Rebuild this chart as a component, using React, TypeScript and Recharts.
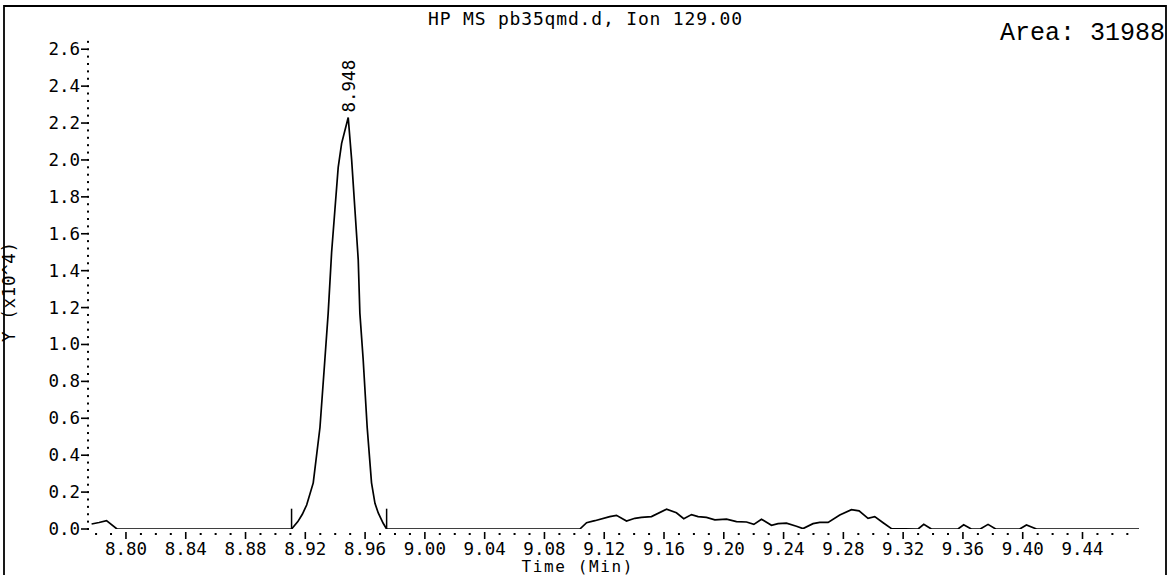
import React from 'react';
import { LineChart, Line, XAxis, YAxis, ReferenceLine, ReferenceDot } from 'recharts';

// Chromatogram samples (Time in min, abundance in x10^4)
const timeMin = [
  8.7770, 8.7820, 8.7870, 8.7940, 8.8500, 8.9000,
  8.9108, 8.9150, 8.9180, 8.9209, 8.9253, 8.9298, 8.9331, 8.9353, 8.9376, 8.9398, 8.9420, 8.9443, 8.9487,
  8.9510, 8.9532, 8.9554, 8.9565, 8.9587, 8.9614, 8.9643, 8.9666, 8.9688, 8.9721, 8.9744,
  9.0000, 9.0500, 9.1037,
  9.1082, 9.1137, 9.1237, 9.1282, 9.1349, 9.1405, 9.1449, 9.1516, 9.1617, 9.1683, 9.1732, 9.1784,
  9.1828, 9.1884, 9.1940, 9.2018, 9.2085, 9.2152, 9.2201, 9.2252, 9.2319, 9.2363, 9.2419, 9.2486,
  9.2530, 9.2597, 9.2642, 9.2698, 9.2776, 9.2854, 9.2905, 9.2965, 9.3010, 9.3066, 9.3122,
  9.3300, 9.3338, 9.3389, 9.3567, 9.3605, 9.3656, 9.3716, 9.3768, 9.3819, 9.3980, 9.4025, 9.4092, 9.4778,
];
const abundance = [
  0.027, 0.035, 0.045, 0.0, 0.0, 0.0,
  0.0, 0.04, 0.08, 0.13, 0.25, 0.55, 0.92, 1.17, 1.50, 1.73, 1.96, 2.09, 2.23,
  2.00, 1.73, 1.46, 1.17, 0.92, 0.55, 0.25, 0.139, 0.087, 0.031, 0.0,
  0.0, 0.0, 0.0,
  0.034, 0.045, 0.067, 0.074, 0.043, 0.058, 0.063, 0.067, 0.107, 0.088, 0.056, 0.078,
  0.067, 0.063, 0.050, 0.053, 0.040, 0.038, 0.025, 0.053, 0.020, 0.029, 0.032, 0.015,
  0.002, 0.029, 0.036, 0.036, 0.076, 0.105, 0.098, 0.058, 0.067, 0.034, 0.002,
  0.0, 0.025, 0.0, 0.0, 0.023, 0.0, 0.0, 0.025, 0.0, 0.0, 0.022, 0.0, 0.0,
];

const xTicks = [
  8.78, 8.79, 8.80, 8.81, 8.82, 8.83, 8.84, 8.85, 8.86, 8.87, 8.88, 8.89, 8.90, 8.91, 8.92, 8.93,
  8.94, 8.95, 8.96, 8.97, 8.98, 8.99, 9.00, 9.01, 9.02, 9.03, 9.04, 9.05, 9.06, 9.07, 9.08, 9.09,
  9.10, 9.11, 9.12, 9.13, 9.14, 9.15, 9.16, 9.17, 9.18, 9.19, 9.20, 9.21, 9.22, 9.23, 9.24, 9.25,
  9.26, 9.27, 9.28, 9.29, 9.30, 9.31, 9.32, 9.33, 9.34, 9.35, 9.36, 9.37, 9.38, 9.39, 9.40, 9.41,
  9.42, 9.43, 9.44, 9.45, 9.46, 9.47,
];
const yMajorTicks = [0.0, 0.2, 0.4, 0.6, 0.8, 1.0, 1.2, 1.4, 1.6, 1.8, 2.0, 2.2, 2.4, 2.6];
const yTicks: number[] = [];
yMajorTicks.forEach((v, i) => {
  yTicks.push(v);
  const last = i === yMajorTicks.length - 1;
  const count = last ? 1 : 4;
  for (let k = 1; k <= count; k++) {
    yTicks.push(Math.round((v + 0.04 * k) * 1000) / 1000);
  }
});

const peakTime = 8.9487;
const peakValue = 2.23;
const peakLabel = '8.948';
const baselineMarks = [8.9108, 8.9744];
const titleText = 'HP MS pb35qmd.d, Ion 129.00';
const areaText = 'Area: 31988';
const xTitle = 'Time (Min)';
const yTitle = 'Y (x10^4)';

const data = timeMin.map((t, i) => ({ t, v: abundance[i] }));

const MONO = '"DejaVu Sans Mono", monospace';

const XTick = (props: any) => {
  const { x, y, payload } = props;
  const v = payload.value as number;
  const hund = Math.round(v * 100);
  if (hund % 4 === 0) {
    return (
      <g>
        <line x1={x} x2={x} y1={y + 3} y2={y + 10} stroke="#000" strokeWidth={1.6} />
        <text x={x} y={y + 26} textAnchor="middle" fontFamily={MONO} fontSize={17.5} fill="#000">
          {v.toFixed(2)}
        </text>
      </g>
    );
  }
  return <rect x={x - 1} y={y + 4} width={2} height={2} fill="#000" />;
};

const YTick = (props: any) => {
  const { x, y, payload } = props;
  const v = payload.value as number;
  const isMajor = yMajorTicks.some((m) => Math.abs(m - v) < 1e-6);
  if (isMajor) {
    return (
      <g>
        <line x1={x - 7} x2={x - 1} y1={y} y2={y} stroke="#000" strokeWidth={1.6} />
        <rect x={x - 1} y={y - 1} width={2} height={2} fill="#000" />
        <text x={x - 8} y={y + 6} textAnchor="end" fontFamily={MONO} fontSize={17.5} fill="#000">
          {v.toFixed(1)}
        </text>
      </g>
    );
  }
  return <rect x={x - 1} y={y - 1} width={2} height={2} fill="#000" />;
};

const PeakLabel = (props: any) => {
  const { cx, cy } = props;
  const ax = cx;
  const ay = cy - 5;
  return (
    <text
      x={ax}
      y={ay}
      dy="0.36em"
      textAnchor="start"
      fontFamily={MONO}
      fontSize={17.5}
      fill="#000"
      transform={`rotate(-90, ${ax}, ${ay})`}
    >
      {peakLabel}
    </text>
  );
};

export default function App() {
  return (
    <div style={{ position: 'absolute', left: 0, top: 0, width: 1172, height: 575, background: '#fff' }}>
      <LineChart width={1172} height={575} data={data} margin={{ top: 40, right: 33, bottom: 0, left: 0 }}>
        <XAxis
          dataKey="t"
          type="number"
          domain={[8.7746, 9.4778]}
          allowDataOverflow
          ticks={xTicks}
          interval={0}
          height={46}
          axisLine={false}
          tickLine={false}
          tickSize={0}
          tickMargin={0}
          tick={<XTick />}
        />
        <YAxis
          type="number"
          domain={[0, 2.65]}
          allowDataOverflow
          ticks={yTicks}
          interval={0}
          width={88}
          axisLine={false}
          tickLine={false}
          tickSize={0}
          tickMargin={0}
          tick={<YTick />}
        />
        {baselineMarks.map((m) => (
          <ReferenceLine
            key={m}
            segment={[{ x: m, y: 0 }, { x: m, y: 0.11 }]}
            stroke="#000"
            strokeWidth={1.5}
            ifOverflow="visible"
          />
        ))}
        <Line
          type="linear"
          dataKey="v"
          stroke="#000"
          strokeWidth={1.7}
          dot={false}
          isAnimationActive={false}
        />
        <ReferenceDot x={peakTime} y={peakValue} r={0} ifOverflow="visible" shape={<PeakLabel />} />
      </LineChart>
      <svg
        width={1172}
        height={575}
        style={{ position: 'absolute', left: 0, top: 0, pointerEvents: 'none' }}
      >
        <polyline points="4,575 4,6 1166,6 1166,575" fill="none" stroke="#000" strokeWidth={1.8} />
        <text x={585} y={25} textAnchor="middle" fontFamily={MONO} fontSize={18} textLength={314} fill="#000">
          {titleText}
        </text>
        <text x={1000} y={40} fontFamily='"Liberation Mono", "Courier New", monospace' fontSize={25} fill="#000">
          {areaText}
        </text>
        <text x={577} y={572} textAnchor="middle" fontFamily={MONO} fontSize={16} textLength={111} fill="#000">
          {xTitle}
        </text>
        <text
          x={9}
          y={292}
          dy="0.36em"
          textAnchor="middle"
          fontFamily={MONO}
          fontSize={17.5}
          textLength={100}
          fill="#000"
          transform="rotate(-90, 9, 292)"
        >
          {yTitle}
        </text>
      </svg>
    </div>
  );
}
